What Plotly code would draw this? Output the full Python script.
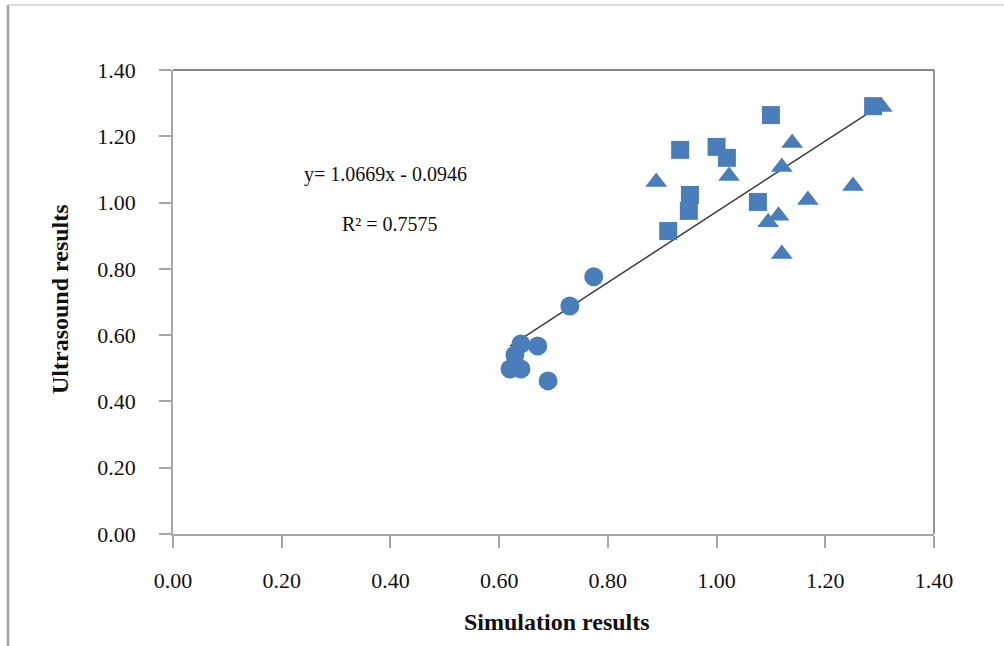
import plotly.graph_objects as go

# --- data ---
circle_x = [0.774, 0.730, 0.640, 0.671, 0.629, 0.620, 0.640, 0.690]
circle_y = [0.776, 0.688, 0.573, 0.567, 0.540, 0.498, 0.498, 0.462]

square_x = [1.100, 0.933, 1.000, 1.019, 0.951, 0.949, 0.911, 1.076, 1.288]
square_y = [1.264, 1.159, 1.168, 1.135, 1.023, 0.975, 0.914, 1.002, 1.291]

triangle_x = [1.304, 1.139, 1.120, 1.168, 1.251, 1.095, 1.114, 1.120, 0.889, 1.023]
triangle_y = [1.288, 1.180, 1.107, 1.008, 1.050, 0.941, 0.960, 0.845, 1.062, 1.080]

slope = 1.0669
intercept = -0.0946
r_squared = 0.7575

tick_vals = [0.0, 0.2, 0.4, 0.6, 0.8, 1.0, 1.2, 1.4]
tick_text = ["0.00", "0.20", "0.40", "0.60", "0.80", "1.00", "1.20", "1.40"]

BLUE = "#4A7EBB"
FONT = "Liberation Serif"

fig = go.Figure()

all_x = circle_x + square_x + triangle_x
x0, x1 = min(all_x), max(all_x)
fig.add_trace(go.Scatter(x=[x0, x1], y=[slope * x0 + intercept, slope * x1 + intercept],
                         mode="lines", line=dict(color="#3c3c3c", width=1.5),
                         showlegend=False, hoverinfo="skip"))

fig.add_trace(go.Scatter(x=circle_x, y=circle_y, mode="markers",
                         marker=dict(symbol="circle", size=19, color=BLUE,
                                     line=dict(width=0)), showlegend=False))
fig.add_trace(go.Scatter(x=square_x, y=square_y, mode="markers",
                         marker=dict(symbol="square", size=18, color=BLUE,
                                     line=dict(width=0)), showlegend=False))
fig.add_trace(go.Scatter(x=triangle_x, y=triangle_y, mode="markers",
                         marker=dict(symbol="triangle-up", size=19, color=BLUE,
                                     line=dict(width=0)), showlegend=False))

axis_common = dict(range=[0, 1.4], tickvals=tick_vals, ticktext=tick_text,
                   showgrid=False, zeroline=False, showline=True,
                   linecolor="#a6a6a6", linewidth=1.5,
                   ticks="outside", ticklen=12, tickcolor="#a6a6a6", tickwidth=1.5,
                   tickfont=dict(family=FONT, size=22, color="#111111"))

fig.update_xaxes(**axis_common, ticklabelstandoff=14)
fig.update_yaxes(**axis_common, ticklabelstandoff=19)

W, H = 1004, 646
L, R, T, B = 173, 934, 70, 534


def px(xp):
    return (xp - L) / (R - L)


def py(yp):
    return (B - yp) / (B - T)


shapes = [
    # plot-area top and right borders
    dict(type="line", xref="paper", yref="paper", x0=0, x1=1, y0=1, y1=1,
         line=dict(color="#606060", width=1.5)),
    dict(type="line", xref="paper", yref="paper", x0=1, x1=1, y0=0, y1=1,
         line=dict(color="#707070", width=1.5)),
    # outer frame (left and top)
    dict(type="line", xref="paper", yref="paper", x0=px(8), x1=px(8), y0=py(5), y1=py(646),
         line=dict(color="#a0a0a0", width=2.5)),
    dict(type="line", xref="paper", yref="paper", x0=px(8), x1=px(1004), y0=py(5), y1=py(5),
         line=dict(color="#cfcfcf", width=1.5)),
]

annotations = [
    dict(text="<b>Simulation results</b>", xref="paper", yref="paper",
         x=px(557), y=py(622), showarrow=False, xanchor="center", yanchor="middle",
         font=dict(family=FONT, size=24, color="#111111")),
    dict(text="<b>Ultrasound results</b>", xref="paper", yref="paper",
         x=px(60), y=py(299), showarrow=False, xanchor="center", yanchor="middle",
         textangle=-90, font=dict(family=FONT, size=24, color="#111111")),
    dict(text=f"y= {slope:.4f}x - {abs(intercept):.4f}", xref="paper", yref="paper",
         x=px(385), y=py(174), showarrow=False, xanchor="center", yanchor="middle",
         font=dict(family=FONT, size=20, color="#111111")),
    dict(text=f"R² = {r_squared:.4f}", xref="paper", yref="paper",
         x=px(390), y=py(224), showarrow=False, xanchor="center", yanchor="middle",
         font=dict(family=FONT, size=20, color="#111111")),
]

fig.update_layout(width=W, height=H, autosize=False,
                  margin=dict(l=L, r=W - R, t=T, b=H - B, pad=0),
                  paper_bgcolor="white", plot_bgcolor="white",
                  shapes=shapes, annotations=annotations, showlegend=False)

fig.write_html("out.html", config={"displayModeBar": False},
               post_script="document.body.style.margin='0';document.body.style.overflow='hidden';")
